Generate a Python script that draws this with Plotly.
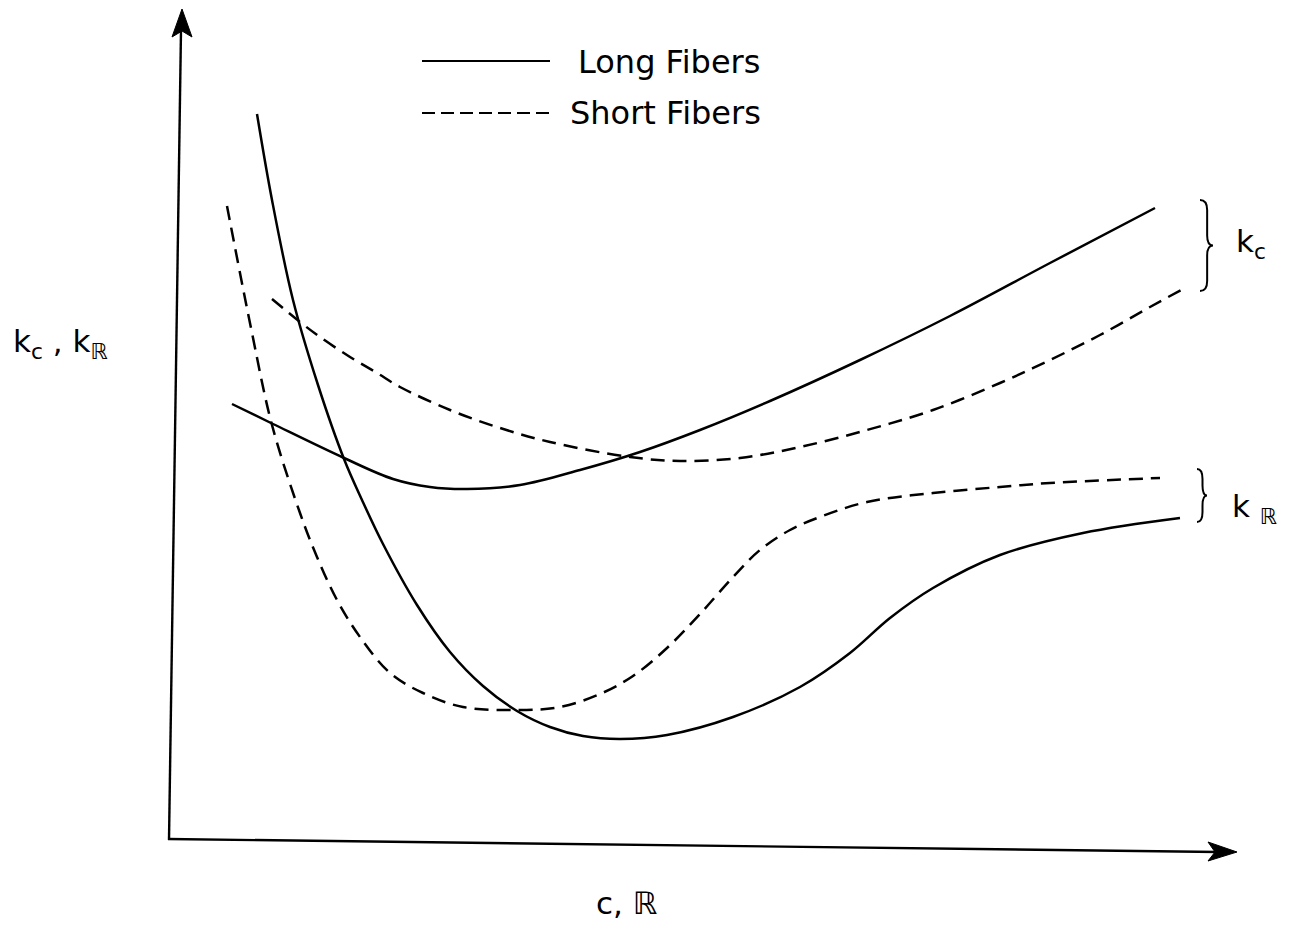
import plotly.graph_objects as go

# ---- curve data (c / R on the horizontal axis, k on the vertical axis) ----
long_kc_x = [0.63, 1.04, 1.75, 2.24, 2.61, 2.98, 3.51, 4.11, 4.71, 5.31, 6.01, 6.91, 7.81, 8.81, 9.86]
long_kc_y = [4.35, 4.15, 3.81, 3.60, 3.52, 3.50, 3.54, 3.69, 3.87, 4.09, 4.38, 4.79, 5.23, 5.76, 6.31]

long_kr_x = [0.88, 1.03, 1.24, 1.49, 1.75, 1.93, 2.14, 2.48, 2.81, 3.14, 3.48, 3.81, 4.14, 4.51,
             4.98, 5.64, 6.31, 6.81, 7.21, 7.64, 8.31, 9.14, 10.11]
long_kr_y = [7.25, 6.39, 5.39, 4.54, 3.80, 3.39, 2.95, 2.34, 1.87, 1.53, 1.28, 1.12, 1.03, 1.00,
             1.04, 1.22, 1.52, 1.86, 2.21, 2.51, 2.84, 3.06, 3.21]

short_kc_x = [1.03, 1.31, 1.51, 1.81, 2.08, 2.31, 2.81, 3.31, 3.81, 4.61, 5.11, 5.71, 6.31, 6.98,
              7.64, 8.31, 8.81, 9.31, 9.81, 10.14]
short_kc_y = [5.40, 5.17, 5.02, 4.82, 4.66, 4.52, 4.29, 4.11, 3.97, 3.82, 3.78, 3.81, 3.92, 4.09,
              4.29, 4.56, 4.79, 5.04, 5.32, 5.50]

short_kr_x = [0.58, 0.83, 1.03, 1.31, 1.48, 1.68, 1.91, 2.21, 2.54, 2.94, 3.48, 3.91, 4.31, 4.64,
              4.98, 5.31, 5.64, 5.91, 6.21, 6.51, 6.98, 7.64, 8.31, 8.81, 9.91]
short_kr_y = [6.33, 5.06, 4.14, 3.26, 2.82, 2.39, 2.02, 1.66, 1.46, 1.32, 1.29, 1.32, 1.45, 1.63,
              1.91, 2.25, 2.62, 2.89, 3.09, 3.22, 3.37, 3.46, 3.52, 3.56, 3.61]

legend_labels = ["Long Fibers", "Short Fibers"]
y_title = "k<sub>c</sub> , k<sub>ℝ</sub>"
x_title = "c, ℝ"
kc_label = "k<sub>c</sub>"
kr_label = "k <sub>ℝ</sub>"

FONT = "DejaVu Sans"
DASH = "14px,8px"


# helpers mapping page pixels to data units (100 px per unit, origin at the axes corner)
def X(px):
    return (px - 169) / 100.0


def Y(py):
    return (839 - py) / 100.0


fig = go.Figure()

curves = [
    (long_kc_x, long_kc_y, "solid"),
    (long_kr_x, long_kr_y, "solid"),
    (short_kc_x, short_kc_y, DASH),
    (short_kr_x, short_kr_y, DASH),
]
for cx, cy, dash in curves:
    fig.add_trace(go.Scatter(
        x=cx, y=cy, mode="lines", showlegend=False, hoverinfo="skip",
        line=dict(color="black", width=2.5, shape="spline", smoothing=1.0, dash=dash),
    ))

shapes = []
ax_line = dict(color="black", width=2.4)

# vertical axis with arrow head
shapes.append(dict(type="line", xref="x", yref="y", x0=X(169), y0=Y(840), x1=X(181), y1=Y(30), line=ax_line))
shapes.append(dict(
    type="path", xref="x", yref="y", fillcolor="black", line=dict(color="black", width=1),
    path=f"M{X(182)},{Y(9)} L{X(192)},{Y(37)} L{X(182)},{Y(31)} L{X(172)},{Y(37)} Z",
))
# horizontal axis with arrow head
shapes.append(dict(type="line", xref="x", yref="y", x0=X(168), y0=Y(839), x1=X(1218), y1=Y(852), line=ax_line))
shapes.append(dict(
    type="path", xref="x", yref="y", fillcolor="black", line=dict(color="black", width=1),
    path=f"M{X(1237)},{Y(852)} L{X(1208)},{Y(842)} L{X(1215)},{Y(852)} L{X(1208)},{Y(861)} Z",
))


def brace(x0, ytop, ybot, w):
    ymid = (ytop + ybot) / 2.0
    xa = x0 + w * 0.55
    xt = x0 + w
    r = min(0.10, (ytop - ybot) / 5.0)
    return (f"M{x0},{ytop} Q{xa},{ytop} {xa},{ytop - r} L{xa},{ymid + r} "
            f"Q{xa},{ymid} {xt},{ymid} Q{xa},{ymid} {xa},{ymid - r} "
            f"L{xa},{ybot + r} Q{xa},{ybot} {x0},{ybot}")


brace_line = dict(color="black", width=2)
shapes.append(dict(type="path", xref="x", yref="y", line=brace_line,
                   path=brace(X(1200), long_kc_y[-1] + 0.08, short_kc_y[-1] - 0.02, 0.13)))
shapes.append(dict(type="path", xref="x", yref="y", line=brace_line,
                   path=brace(X(1197), short_kr_y[-1] + 0.09, long_kr_y[-1] - 0.04, 0.10)))

# legend keys
shapes.append(dict(type="line", xref="x", yref="y", x0=X(422), x1=X(550), y0=Y(61), y1=Y(61),
                   line=dict(color="black", width=2)))
shapes.append(dict(type="line", xref="x", yref="y", x0=X(422), x1=X(553), y0=Y(113), y1=Y(113),
                   line=dict(color="black", width=2, dash="13px,6px")))

txt = dict(family=FONT, size=31, color="black")
legend_txt = dict(family=FONT, size=32, color="black")
annotations = [
    dict(x=X(576), y=Y(62), text=legend_labels[0], xanchor="left", yanchor="middle", font=legend_txt),
    dict(x=X(568), y=Y(113), text=legend_labels[1], xanchor="left", yanchor="middle", font=legend_txt),
    dict(x=X(60), y=Y(343), text=y_title, xanchor="center", yanchor="middle", font=txt),
    dict(x=X(626), y=Y(903), text=x_title, xanchor="center", yanchor="middle", font=txt),
    dict(x=X(1234), y=Y(243), text=kc_label, xanchor="left", yanchor="middle", font=txt),
    dict(x=X(1230), y=Y(508), text=kr_label, xanchor="left", yanchor="middle", font=txt),
]
for a in annotations:
    a.update(xref="x", yref="y", showarrow=False)

fig.update_layout(
    width=1291, height=928,
    margin=dict(l=0, r=0, t=0, b=0),
    paper_bgcolor="white", plot_bgcolor="white",
    xaxis=dict(range=[X(0), X(1291)], visible=False, fixedrange=True),
    yaxis=dict(range=[Y(928), Y(0)], visible=False, fixedrange=True),
    shapes=shapes, annotations=annotations,
    showlegend=False,
)

fig.write_html("out.html")
